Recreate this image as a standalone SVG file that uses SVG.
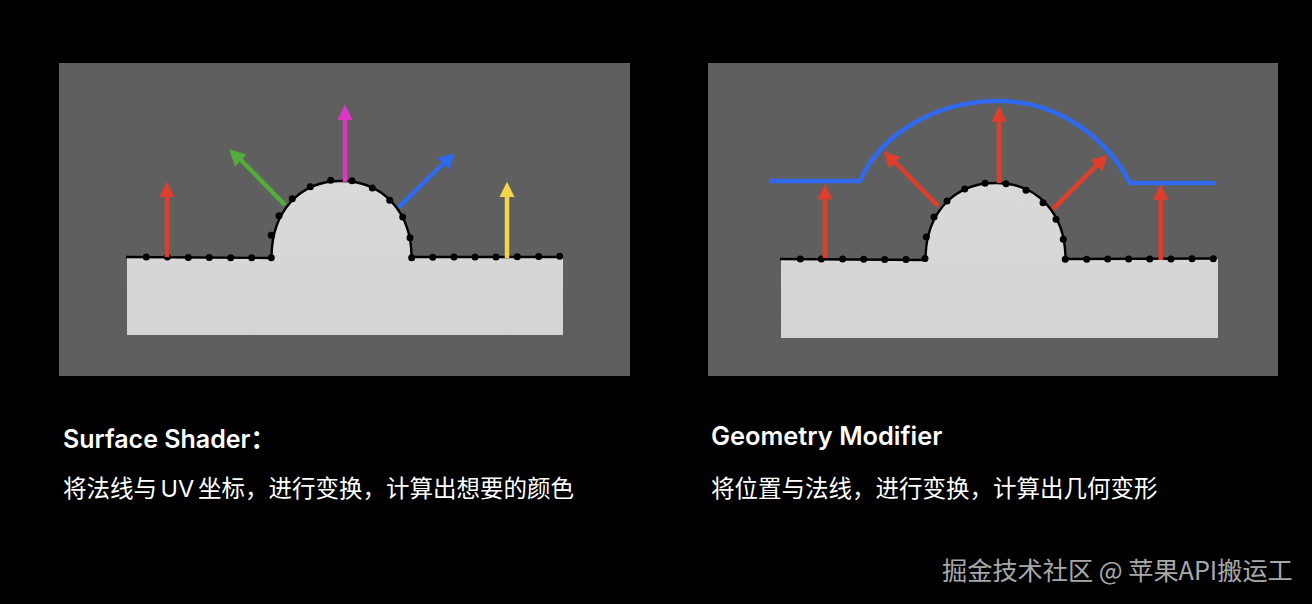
<svg xmlns="http://www.w3.org/2000/svg" width="1312" height="604" viewBox="0 0 1312 604">
<defs>
<linearGradient id="sh" x1="0" y1="0" x2="0" y2="1"><stop offset="0" stop-color="#d9d9d9"/><stop offset="1" stop-color="#d4d4d4"/></linearGradient>
<circle id="d" r="3.5" fill="#000"/>
</defs>
<style>
.panel{fill:#5f5f5f}
.solid{fill:url(#sh);stroke:none}
.edge{fill:none;stroke:#000;stroke-width:2.4}
.s{stroke-width:4.500;fill:none}
.title{font-family:"Inter","Liberation Sans","Noto Sans CJK SC",sans-serif;font-size:25px;font-weight:600;fill:#fff}
.sub{font-family:"Inter","Noto Sans CJK SC",sans-serif;font-size:23.500px;fill:#fff}
.wm{font-family:"Noto Sans CJK SC",sans-serif;font-size:25.200px;fill:#fff;fill-opacity:.68}
</style>
<rect width="1312" height="604" fill="#000"/>
<g id="left-panel">
<rect class="panel" x="59" y="63" width="571" height="313"/>
<path class="solid" d="M127 257H271.500C271.500 212 299 181 341 181C383 181 411.500 212 411.500 257H563V335H127Z"/>
<path class="edge" d="M126 257L271.500 258C271.500 212 299 181 341 181C383 181 411.500 212 411.500 257H562"/>
<g id="left-dots">
<use href="#d" x="146.300" y="257"/><use href="#d" x="167.300" y="257"/><use href="#d" x="188.300" y="257.500"/><use href="#d" x="209.300" y="257.500"/><use href="#d" x="230.700" y="257.700"/><use href="#d" x="251.700" y="257.700"/><use href="#d" x="271.300" y="257.700"/>
<use href="#d" x="271.300" y="235.300"/><use href="#d" x="279" y="215.700"/><use href="#d" x="292.300" y="198.700"/><use href="#d" x="310.300" y="186.700"/><use href="#d" x="330.700" y="180.300"/>
<use href="#d" x="352" y="180.700"/><use href="#d" x="372.300" y="188"/><use href="#d" x="389.700" y="200.300"/><use href="#d" x="402.700" y="217"/><use href="#d" x="410" y="237.700"/><use href="#d" x="411.700" y="257.700"/>
<use href="#d" x="432.700" y="257.300"/><use href="#d" x="454" y="257"/><use href="#d" x="475" y="257"/><use href="#d" x="496" y="257"/><use href="#d" x="517.300" y="256.700"/><use href="#d" x="538.700" y="256.500"/><use href="#d" x="559.700" y="256.300"/>
</g>
</g>
<g id="right-panel">
<rect class="panel" x="708" y="63" width="570" height="313"/>
<path class="solid" d="M781 259H925.500C925.500 214 953 183 995.500 183C1038 183 1065.500 214 1065.500 259H1218V338H781Z"/>
<path class="edge" d="M780 259L925.500 260C925.500 214 953 183 995.500 183C1038 183 1065.500 214 1065.500 259L1215 258.500"/>
<g id="right-dots">
<use href="#d" x="800.300" y="259"/><use href="#d" x="821.300" y="259"/><use href="#d" x="842.700" y="259"/><use href="#d" x="863.700" y="259.300"/><use href="#d" x="884.700" y="259.500"/><use href="#d" x="906" y="259.500"/><use href="#d" x="925" y="258.500"/>
<use href="#d" x="926.300" y="237"/><use href="#d" x="934" y="217"/><use href="#d" x="947" y="201"/><use href="#d" x="964.700" y="189"/><use href="#d" x="985" y="183.300"/>
<use href="#d" x="1006" y="183.700"/><use href="#d" x="1026" y="190.300"/><use href="#d" x="1043" y="202.700"/><use href="#d" x="1056" y="219.300"/><use href="#d" x="1063.300" y="239.300"/><use href="#d" x="1065.300" y="259.300"/>
<use href="#d" x="1086.700" y="259.300"/><use href="#d" x="1107.700" y="259"/><use href="#d" x="1128.700" y="259"/><use href="#d" x="1149.700" y="259"/><use href="#d" x="1171" y="259"/><use href="#d" x="1192" y="258.800"/><use href="#d" x="1213.300" y="258.700"/>
</g>
</g>
<g id="connectors">
<path class="s" stroke="#e13d2b" d="M167 257V195"/><path fill="#e13d2b" d="M167 181.700L174.500 197H159.500Z"/>
<path class="s" stroke="#54ad3a" d="M285 205L239 158"/><path fill="#54ad3a" d="M229.300 149.300L246.500 154.500L235 166.500Z"/>
<path class="s" stroke="#dd36c5" d="M345 182V118"/><path fill="#dd36c5" d="M345 104.300L352.500 120H337.500Z"/>
<path class="s" stroke="#3068ee" d="M398.700 207.300L445 162"/><path fill="#3068ee" d="M454.300 153L449.500 170L437.500 158Z"/>
<path class="s" stroke="#f5d54a" d="M507 258V195"/><path fill="#f5d54a" d="M507 181.700L514.500 197H499.500Z"/>
<path class="s" stroke="#e13d2b" d="M825 258V197"/><path fill="#e13d2b" d="M825 184.300L832.500 199.300H817.500Z"/>
<path class="s" stroke="#e13d2b" d="M938.300 206L893 160"/><path fill="#e13d2b" d="M884 151.700L900.500 157L889 168.500Z"/>
<path class="s" stroke="#e13d2b" d="M999 183V119"/><path fill="#e13d2b" d="M999 105.700L1006.500 121.700H991.500Z"/>
<path class="s" stroke="#e13d2b" d="M1052.700 209.300L1098 164"/><path fill="#e13d2b" d="M1107.300 155L1102.500 171.500L1090.500 160Z"/>
<path class="s" stroke="#e13d2b" d="M1160.700 260V197"/><path fill="#e13d2b" d="M1160.700 184.300L1168.200 199.700H1153.200Z"/>
<path d="M769 181H860C880 135 935 101 998 101C1056 101 1105 135 1130 183H1216" fill="none" stroke="#3068ee" stroke-width="4.500"/>
</g>
<text class="title" x="63" y="448">Surface Shader：</text>
<text class="sub" x="63" y="497" word-spacing="-3">将法线与 UV 坐标，进行变换，计算出想要的颜色</text>
<text class="title" x="711" y="445" font-size="25.400" style="font-size:25.400px">Geometry Modifier</text>
<text class="sub" x="711" y="497">将位置与法线，进行变换，计算出几何变形</text>
<text class="wm" x="942" y="580">掘金技术社区 @ 苹果API搬运工</text>
</svg>
